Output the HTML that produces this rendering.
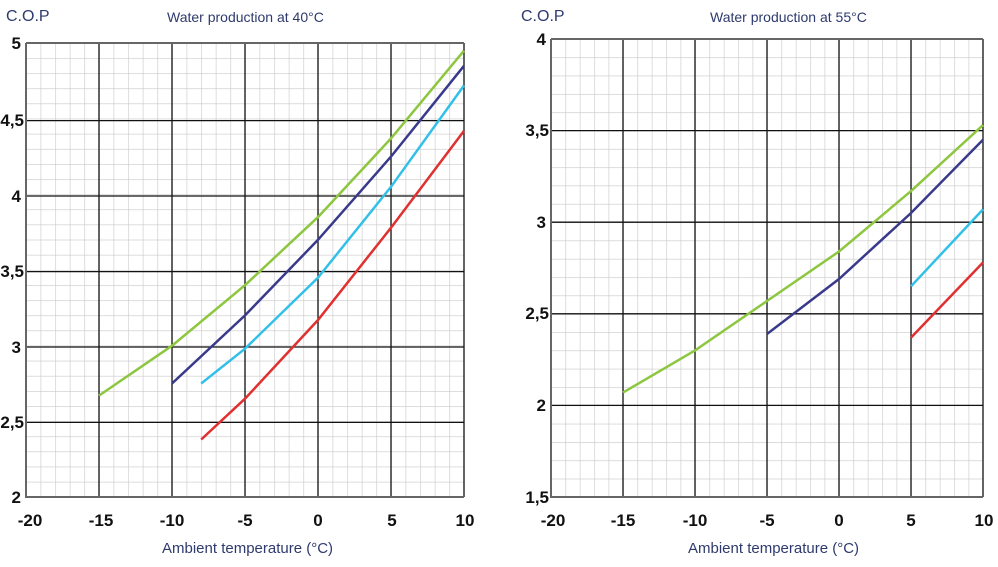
<!DOCTYPE html><html><head><style>body{margin:0;background:#fff}</style></head><body>
<svg width="998" height="562" xmlns="http://www.w3.org/2000/svg" font-family="Liberation Sans, sans-serif">
<defs>
<pattern id="gl" x="26" y="43" width="14.6" height="15.13" patternUnits="userSpaceOnUse"><path d="M0 0V15.13M0 0H14.6" stroke="#c8c8c8" stroke-width="1.2" fill="none"/></pattern>
<pattern id="gr" x="551" y="39" width="14.4" height="18.32" patternUnits="userSpaceOnUse"><path d="M0 0V18.32M0 0H14.4" stroke="#c8c8c8" stroke-width="1.2" fill="none"/></pattern>
</defs>
<rect x="26" y="43" width="438" height="454" fill="url(#gl)"/>
<g stroke="#111" stroke-width="1.3">
<path d="M99 43V497M172 43V497M245 43V497M318 43V497M391 43V497M464 43V497M26 120.6H464M26 196H464M26 271.6H464M26 347H464M26 422.4H464"/>
</g>
<path d="M26 43H464M26 43V497H464" stroke="#666" stroke-width="2" fill="none"/>
<g fill="none" stroke-width="2.5">
<polyline stroke="#8dc63f" points="99,395.6 172,345.7 245,285.2 318,217.1 391,138.4 464,50.7"/>
<polyline stroke="#3a3a8c" points="172,383.5 245,315.4 318,239.8 391,156.6 464,65.8"/>
<polyline stroke="#33c0e8" points="201.2,383.5 245,348.7 318,277.6 391,186.8 464,85.5"/>
<polyline stroke="#e03030" points="201.2,439.5 245,398.7 318,320 391,227.7 464,130.9"/>
</g>
<g font-size="17" font-weight="bold" fill="#111" text-anchor="end">
<text x="21" y="49">5</text><text x="24" y="126">4,5</text><text x="21" y="202">4</text><text x="24" y="277">3,5</text><text x="21" y="353">3</text><text x="24" y="428">2,5</text><text x="21" y="503">2</text>
</g>
<g font-size="17" font-weight="bold" fill="#111" text-anchor="middle">
<text x="30" y="526">-20</text><text x="101" y="526">-15</text><text x="172" y="526">-10</text><text x="245" y="526">-5</text><text x="318" y="526">0</text><text x="392" y="526">5</text><text x="465" y="526">10</text>
</g>
<g fill="#2e3a6e">
<text x="6" y="21" font-size="16">C.O.P</text><text x="167" y="22" font-size="14">Water production  at 40°C</text><text x="162" y="553" font-size="15">Ambient temperature (°C)</text>
</g>

<rect x="551" y="39" width="432" height="458" fill="url(#gr)"/>
<g stroke="#111" stroke-width="1.3">
<path d="M623 39V497M695 39V497M767 39V497M839 39V497M911 39V497M983 39V497M551 130.6H983M551 222.2H983M551 313.8H983M551 405.4H983"/>
</g>
<path d="M551 39H983M551 39V497H983" stroke="#666" stroke-width="2" fill="none"/>
<g fill="none" stroke-width="2.5">
<polyline stroke="#8dc63f" points="623,392.6 695,350.4 767,301 839,251.5 911,191.1 983,125.1"/>
<polyline stroke="#3a3a8c" points="767,334 839,279 911,213 983,139.8"/>
<polyline stroke="#33c0e8" points="911,286.3 983,209.4"/>
<polyline stroke="#e03030" points="911,337.6 983,262.5"/>
</g>
<g font-size="17" font-weight="bold" fill="#111" text-anchor="end">
<text x="546" y="45">4</text><text x="549" y="136">3,5</text><text x="546" y="228">3</text><text x="549" y="319">2,5</text><text x="546" y="411">2</text><text x="549" y="503">1,5</text>
</g>
<g font-size="17" font-weight="bold" fill="#111" text-anchor="middle">
<text x="553" y="526">-20</text><text x="623" y="526">-15</text><text x="695" y="526">-10</text><text x="767" y="526">-5</text><text x="839" y="526">0</text><text x="911" y="526">5</text><text x="984" y="526">10</text>
</g>
<g fill="#2e3a6e">
<text x="521" y="21" font-size="16">C.O.P</text><text x="710" y="22" font-size="14">Water production at  55°C</text><text x="688" y="553" font-size="15">Ambient temperature (°C)</text>
</g>
</svg>
</body></html>
